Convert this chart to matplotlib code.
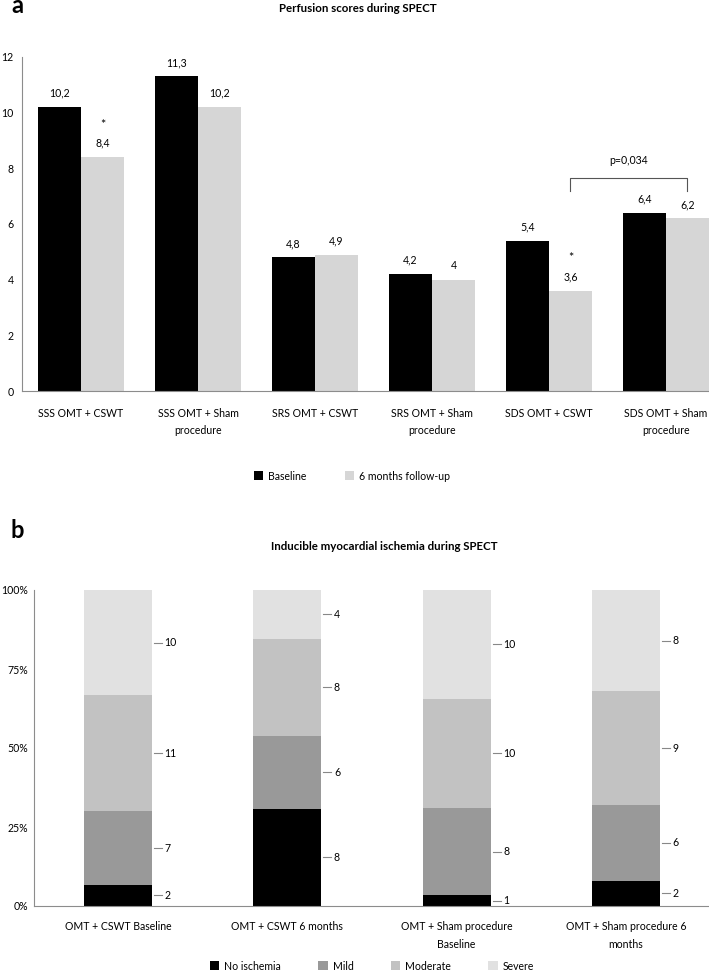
import matplotlib
matplotlib.use('Agg')
import matplotlib.pyplot as plt
import numpy as np

# ---------------- data ----------------
top_categories = ["SSS OMT + CSWT", "SSS OMT + Sham\nprocedure", "SRS OMT + CSWT",
                  "SRS OMT + Sham\nprocedure", "SDS OMT + CSWT", "SDS OMT + Sham\nprocedure"]
baseline = [10.2, 11.3, 4.8, 4.2, 5.4, 6.4]
followup = [8.4, 10.2, 4.9, 4.0, 3.6, 6.2]
followup_star = [True, False, False, False, True, False]
top_yticks = [0, 2, 4, 6, 8, 10, 12]
p_label = "p=0,034"

bot_categories = ["OMT + CSWT Baseline", "OMT + CSWT 6 months",
                  "OMT + Sham procedure\nBaseline", "OMT + Sham procedure 6\nmonths"]
no_ischemia = [2, 8, 1, 2]
mild = [7, 6, 8, 6]
moderate = [11, 8, 10, 9]
severe = [10, 4, 10, 8]
bot_series = ["No ischemia", "Mild", "Moderate", "Severe"]
bot_yticks = [0, 25, 50, 75, 100]

# ---------------- style ----------------
FONT = ['Lato', 'DejaVu Sans']
plt.rcParams['font.family'] = FONT
FS = 7.6
FS_TITLE = 8.3
C_BASE = '#000000'
C_FU = '#d6d6d6'
BOT_COLORS = ['#000000', '#999999', '#c2c2c2', '#e1e1e1']
SPINE = '#8c8c8c'

W, H = 709, 975
fig = plt.figure(figsize=(W / 100, H / 100), dpi=100)


def rect(l, t, r, b):
    return [l / W, 1 - b / H, (r - l) / W, (b - t) / H]


def fx(px):
    return px / W


def fy(py):
    return 1 - py / H


def fmt(v):
    return f"{v:g}".replace('.', ',')


# ---------------- panel a ----------------
ax1 = fig.add_axes(rect(22, 57, 709, 391))
x = np.arange(len(baseline))
bw = 0.3675
ax1.bar(x - bw / 2, baseline, width=bw, color=C_BASE, label='Baseline')
ax1.bar(x + bw / 2, followup, width=bw, color=C_FU, label='6 months follow-up')
for i in range(len(x)):
    ax1.annotate(fmt(baseline[i]), (x[i] - bw / 2, baseline[i]), xytext=(0, 6),
                 textcoords='offset points', ha='center', va='bottom', fontsize=FS)
    ax1.annotate(fmt(followup[i]), (x[i] + bw / 2, followup[i]), xytext=(0, 6),
                 textcoords='offset points', ha='center', va='bottom', fontsize=FS)
    if followup_star[i]:
        ax1.annotate('*', (x[i] + bw / 2, followup[i]), xytext=(0, 19),
                     textcoords='offset points', ha='center', va='bottom', fontsize=FS + 1.5)

ax1.set_xlim(-0.504, 5.368)
ax1.set_ylim(0, 12)
ax1.set_yticks(top_yticks)
ax1.set_yticklabels([str(t) for t in top_yticks], fontsize=FS)
ax1.set_xticks(x)
ax1.set_xticklabels(top_categories, fontsize=FS, linespacing=1.7)
ax1.tick_params(axis='both', length=0)
ax1.tick_params(axis='y', pad=6)
ax1.tick_params(axis='x', pad=12)
for s in ['top', 'right']:
    ax1.spines[s].set_visible(False)
for s in ['left', 'bottom']:
    ax1.spines[s].set_color(SPINE)
    ax1.spines[s].set_linewidth(0.8)

# significance bracket between the follow-up bars of the two SDS groups
bx0, bx1 = x[4] + bw / 2, x[5] + bw / 2
ax1.plot([bx0, bx0, bx1, bx1], [7.17, 7.64, 7.64, 7.17], color='#555555', lw=0.8)
ax1.text((bx0 + bx1) / 2, 8.1, p_label, ha='center', va='bottom', fontsize=FS)

fig.text(fx(11), fy(13), 'a', fontsize=17, fontweight='bold', ha='left', va='baseline')
fig.text(fx(358), fy(8), 'Perfusion scores during SPECT', fontsize=FS_TITLE, fontweight='bold',
         ha='center', va='center')

ax1.legend(loc='center', bbox_to_anchor=(fx(352), fy(476)), bbox_transform=fig.transFigure,
           ncol=2, frameon=False, fontsize=FS, handlelength=0.9, handleheight=0.9,
           handletextpad=0.5, columnspacing=3.6)

# ---------------- panel b ----------------
ax2 = fig.add_axes(rect(34, 590, 709, 906))
xb = np.arange(len(bot_categories))
data = np.array([no_ischemia, mild, moderate, severe], dtype=float)
totals = data.sum(axis=0)
pct = data / totals * 100
bw2 = 0.40
bottom = np.zeros(len(xb))
for k in range(len(bot_series)):
    ax2.bar(xb, pct[k], width=bw2, bottom=bottom, color=BOT_COLORS[k], label=bot_series[k])
    mids = bottom + pct[k] / 2
    for i in range(len(xb)):
        x0 = xb[i] + bw2 / 2
        ax2.plot([x0 + 0.012, x0 + 0.06], [mids[i], mids[i]], color='#888888', lw=0.8)
        ax2.text(x0 + 0.075, mids[i], f"{int(data[k, i])}", ha='left', va='center', fontsize=FS)
    bottom = bottom + pct[k]

ax2.set_xlim(-0.496, 3.49)
ax2.set_ylim(0, 100)
ax2.set_yticks(bot_yticks)
ax2.set_yticklabels([f"{t}%" for t in bot_yticks], fontsize=FS)
ax2.set_xticks(xb)
ax2.set_xticklabels(bot_categories, fontsize=FS, linespacing=1.7)
ax2.tick_params(axis='both', length=0)
ax2.tick_params(axis='y', pad=4)
ax2.tick_params(axis='x', pad=11)
for s in ['top', 'right']:
    ax2.spines[s].set_visible(False)
for s in ['left', 'bottom']:
    ax2.spines[s].set_color(SPINE)
    ax2.spines[s].set_linewidth(0.8)

fig.text(fx(11), fy(538), 'b', fontsize=17, fontweight='bold', ha='left', va='baseline')
fig.text(fx(384), fy(546), 'Inducible myocardial ischemia during SPECT', fontsize=FS_TITLE,
         fontweight='bold', ha='center', va='center')

ax2.legend(loc='center', bbox_to_anchor=(fx(372), fy(966)), bbox_transform=fig.transFigure,
           ncol=4, frameon=False, fontsize=FS, handlelength=0.9, handleheight=0.9,
           handletextpad=0.5, columnspacing=3.5)

fig.savefig('out.png', dpi=100)
